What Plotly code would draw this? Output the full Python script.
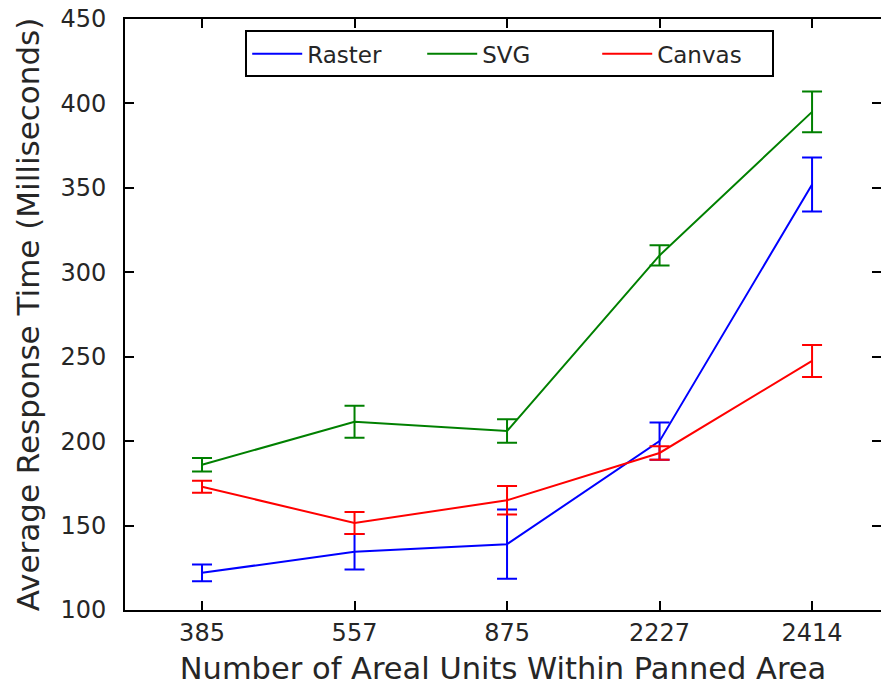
import plotly.graph_objects as go

categories = ["385", "557", "875", "2227", "2414"]
raster = [122, 134.5, 139, 200, 352]
raster_err = [5, 10.5, 20.5, 11, 16]
svg = [186, 211.5, 206, 310, 395]
svg_err = [4, 9.5, 7, 6, 12]
canvas = [173, 151.5, 165, 193, 247.5]
canvas_err = [3.5, 6.5, 8.5, 4, 9.5]
y_ticks = [100, 150, 200, 250, 300, 350, 400, 450]

series = [
    ("Raster", raster, raster_err, "#0000ff"),
    ("SVG", svg, svg_err, "#008000"),
    ("Canvas", canvas, canvas_err, "#ff0000"),
]

FONT = "DejaVu Sans"
TXT = "#262626"
fig = go.Figure()
xs = list(range(len(categories)))
for name, vals, errs, col in series:
    fig.add_trace(go.Scatter(
        x=xs, y=vals, name=name, mode="lines",
        line=dict(color=col, width=2),
        error_y=dict(type="data", array=errs, visible=True, color=col,
                     thickness=2, width=10),
    ))

# empty trace so the right-hand tick axis is created
fig.add_trace(go.Scatter(x=[], y=[], yaxis="y2", showlegend=False,
                         hoverinfo="skip"))

fig.update_layout(
    width=881, height=690,
    margin=dict(l=125, r=0, t=19, b=80),
    paper_bgcolor="white", plot_bgcolor="white",
    font=dict(family=FONT, color=TXT),
    showlegend=True,
    legend=dict(
        orientation="h", x=0.159, xanchor="left", y=0.981, yanchor="top",
        bgcolor="white", bordercolor="black", borderwidth=2,
        font=dict(family=FONT, size=23, color=TXT),
        itemwidth=50,
        entrywidth=110, entrywidthmode="pixels",
    ),
    xaxis=dict(
        tickmode="array", tickvals=xs, ticktext=categories,
        range=[-0.505, 4.452],
        showline=True, linecolor="black", linewidth=2, mirror="ticks",
        ticks="inside", ticklen=9, tickwidth=1.5, tickcolor="black",
        showgrid=False, zeroline=False,
        tickfont=dict(family=FONT, size=24, color=TXT),
        title=dict(text="Number of Areal Units Within Panned Area",
                   font=dict(family=FONT, size=30.5, color=TXT), standoff=12),
    ),
    yaxis=dict(
        range=[100, 450], tickmode="array", tickvals=y_ticks,
        showline=True, linecolor="black", linewidth=2, mirror=False,
        ticks="inside", ticklen=9, tickwidth=1.5, tickcolor="black",
        showgrid=False, zeroline=False, ticklabelstandoff=12,
        tickfont=dict(family=FONT, size=24, color=TXT),
        title=dict(text="Average Response Time (Milliseconds)",
                   font=dict(family=FONT, size=31, color=TXT), standoff=12),
    ),
    yaxis2=dict(
        overlaying="y", side="right", range=[100, 450], tickmode="array",
        tickvals=y_ticks, showticklabels=False, showline=False,
        ticks="inside", ticklen=9, tickwidth=1.5, tickcolor="black",
        showgrid=False, zeroline=False,
    ),
)

fig.write_html("out.html")
